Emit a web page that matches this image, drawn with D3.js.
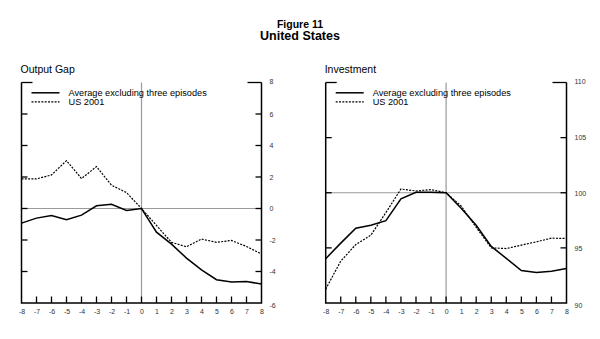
<!DOCTYPE html>
<html><head><meta charset="utf-8">
<script src="https://cdn.jsdelivr.net/npm/d3@7"></script>
<style>body{margin:0;background:#fff}svg{display:block}text{font-family:"Liberation Sans",Arial,sans-serif}</style>
</head><body><div id="chart"></div>
<script>
const quarters = [-8,-7,-6,-5,-4,-3,-2,-1,0,1,2,3,4,5,6,7,8];
const gapAverage = [-0.93,-0.61,-0.44,-0.72,-0.42,0.17,0.27,-0.13,0,-1.5,-2.26,-3.15,-3.89,-4.52,-4.67,-4.63,-4.8];
const gapUS2001 = [1.88,1.88,2.13,3.04,1.9,2.66,1.48,1.01,0,-1.08,-2.15,-2.43,-1.94,-2.15,-2.03,-2.41,-2.89];
const invAverage = [94.02,95.43,96.78,97.05,97.47,99.45,100.04,100.04,100,98.6,97.05,95.13,94.05,92.94,92.76,92.88,93.12];
const invUS2001 = [91.26,93.8,95.3,96.15,98.2,100.34,100.16,100.28,100,98.8,96.86,95.0,94.94,95.25,95.55,95.88,95.85];
const gapTicks = [-6,-4,-2,0,2,4,6,8];
const invTicks = [90,95,100,105,110];
const seriesNames = ["Average excluding three episodes","US 2001"];

const W=600,H=339;
const svg=d3.select("#chart").append("svg").attr("width",W).attr("height",H);

svg.append("text").attr("x",300).attr("y",27.5).attr("text-anchor","middle")
  .attr("font-size",10.5).attr("font-weight","bold").text("Figure 11");
svg.append("text").attr("x",300).attr("y",39.5).attr("text-anchor","middle")
  .attr("font-size",12.5).attr("font-weight","bold").text("United States");

const fmt = d => String(d);

function panel(x0,x1,title,avg,us,ticks,ref){
  const top=82.5,bot=303;
  const x=d3.scaleLinear().domain([-8,8]).range([x0,x1]);
  const y=d3.scaleLinear().domain([ticks[0],ticks[ticks.length-1]]).range([bot,top]);
  const g=svg.append("g");
  g.append("text").attr("x",x0-1).attr("y",73).attr("font-size",10.5).text(title);
  // reference lines
  g.append("line").attr("x1",x(0)).attr("x2",x(0)).attr("y1",top).attr("y2",bot)
    .attr("stroke","#9a9a9a").attr("stroke-width",1.2);
  g.append("line").attr("x1",x0).attr("x2",x1).attr("y1",y(ref)).attr("y2",y(ref))
    .attr("stroke","#9a9a9a").attr("stroke-width",1.2);
  // bottom axis
  const xa=d3.axisBottom(x).tickValues(quarters).tickSize(0).tickPadding(6).tickFormat(fmt);
  const gx=g.append("g").attr("transform",`translate(0,${bot})`).call(xa);
  gx.select(".domain").remove();
  gx.selectAll("text").attr("font-size",7).attr("fill","#333").attr("font-family","Liberation Sans, Arial");
  g.selectAll(".xt").data(quarters.slice(1,-1)).join("line").attr("class","xt")
    .attr("x1",d=>x(d)).attr("x2",d=>x(d)).attr("y1",bot).attr("y2",bot-6.5)
    .attr("stroke","#000").attr("stroke-width",1.3);
  // right axis labels
  const ya=d3.axisRight(y).tickValues(ticks).tickSize(0).tickPadding(0).tickFormat(fmt);
  const gy=g.append("g").attr("transform",`translate(${x1+8},0)`).call(ya);
  gy.select(".domain").remove();
  gy.selectAll("text").attr("font-size",7).attr("fill","#333").attr("font-family","Liberation Sans, Arial")
    .attr("dy",d=>d===ticks[0]?"0.7em":(d===ticks[ticks.length-1]?"0.1em":"0.32em"));
  // tick marks on left and right axes
  const inner=ticks.slice(1,-1);
  g.selectAll(".lt").data(inner).join("line").attr("class","lt")
    .attr("x1",x0).attr("x2",x0+6).attr("y1",d=>y(d)).attr("y2",d=>y(d)).attr("stroke","#000").attr("stroke-width",1.3);
  g.selectAll(".rt").data(inner).join("line").attr("class","rt")
    .attr("x1",x1).attr("x2",x1-6).attr("y1",d=>y(d)).attr("y2",d=>y(d)).attr("stroke","#000").attr("stroke-width",1.3);
  const tv=ticks[ticks.length-1];
  g.append("line").attr("x1",x0).attr("x2",x0+11).attr("y1",y(tv)).attr("y2",y(tv)).attr("stroke","#000").attr("stroke-width",1.3);
  g.append("line").attr("x1",x1).attr("x2",x1-14).attr("y1",y(tv)).attr("y2",y(tv)).attr("stroke","#000").attr("stroke-width",1.3);
  // frame: left, right, bottom
  g.append("path").attr("d",`M${x0},${top}V${bot}H${x1}V${top}`).attr("fill","none")
    .attr("stroke","#000").attr("stroke-width",1.5);
  // series
  const line=d3.line().x((d,i)=>x(quarters[i])).y(d=>y(d));
  g.append("path").datum(us).attr("d",line).attr("fill","none").attr("stroke","#000")
    .attr("stroke-width",1.2).attr("stroke-dasharray","2,1.3");
  g.append("path").datum(avg).attr("d",line).attr("fill","none").attr("stroke","#000")
    .attr("stroke-width",1.5);
  // legend
  const lg=g.append("g");
  [[92.8,null],[101.8,"2,1.3"]].forEach((r,i)=>{
    lg.append("line").attr("x1",x0+10).attr("x2",x0+38).attr("y1",r[0]).attr("y2",r[0])
      .attr("stroke","#000").attr("stroke-width",i?1.2:1.5).attr("stroke-dasharray",r[1]);
    lg.append("text").attr("x",x0+47).attr("y",r[0]+3).attr("font-size",9.2).text(seriesNames[i]);
  });
}
panel(21.5,261.5,"Output Gap",gapAverage,gapUS2001,gapTicks,0);
panel(325.7,566.5,"Investment",invAverage,invUS2001,invTicks,100);
</script></body></html>
